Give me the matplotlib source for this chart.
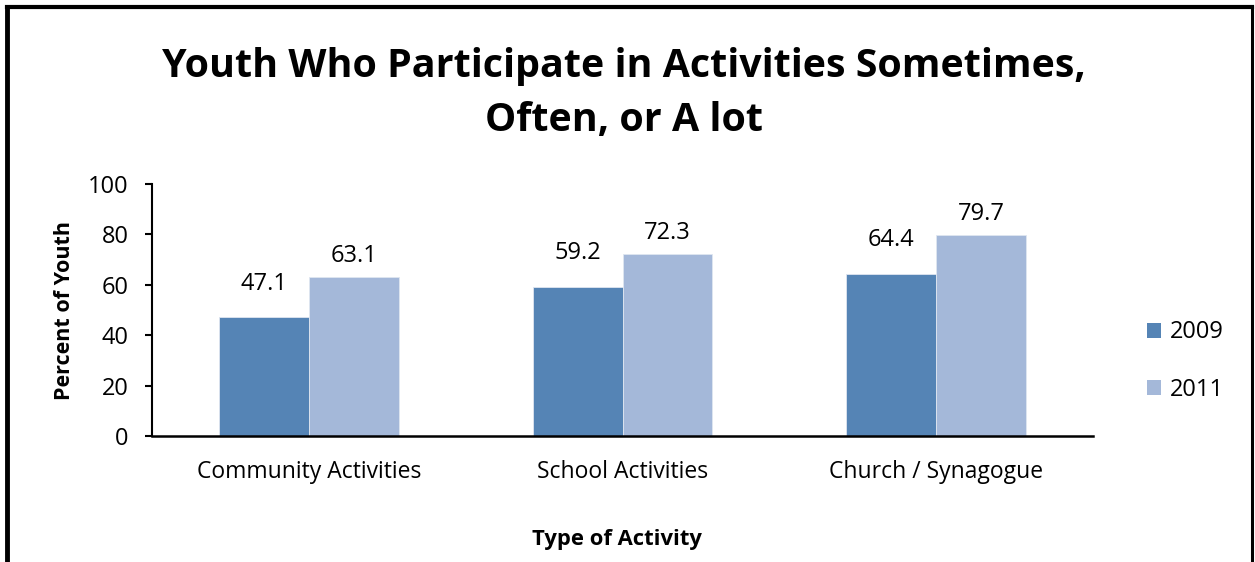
import numpy as np
import matplotlib.pyplot as plt
from matplotlib.lines import Line2D
from matplotlib.patches import Patch

plt.rcParams["font.family"] = ["Open Sans", "DejaVu Sans"]

# ── Data ─────────────────────────────────────────────────────────────────────
categories = ["Community Activities", "School Activities", "Church / Synagogue"]
years = ["2009", "2011"]
vals_2009 = [47.1, 59.2, 64.4]
vals_2011 = [63.1, 72.3, 79.7]
yticks = [0, 20, 40, 60, 80, 100]

colors = {"2009": "#5584B5", "2011": "#A4B8D9"}

# ── Figure ───────────────────────────────────────────────────────────────────
W, H = 1255, 562
fig = plt.figure(figsize=(W / 100, H / 100), dpi=100, facecolor="white")
ax = fig.add_axes([152 / W, 1 - 436 / H, (1093 - 152) / W, (436 - 184) / H])

x = np.arange(len(categories))
bw = 90 / 314
# label offsets differ per series in the original (Excel nudged them)
for off, yr, vals, lab_off in [(-0.5, "2009", vals_2009, 15.5), (0.5, "2011", vals_2011, 6.5)]:
    bars = ax.bar(x + off * bw, vals, width=bw, color=colors[yr],
                  edgecolor="#dfe6f0", linewidth=0.6, label=yr)
    for b, v in zip(bars, vals):
        ax.annotate(f"{v:.1f}", (b.get_x() + b.get_width() / 2, v),
                    xytext=(0, lab_off), textcoords="offset points",
                    ha="center", va="bottom", fontsize=17)

ax.set_xlim(-0.5, 2.5)
ax.set_ylim(0, 100)
ax.set_yticks(yticks)
ax.set_xticks(x)
ax.set_xticklabels(categories, fontsize=16.5)
ax.tick_params(axis="y", labelsize=17, length=5, width=1.5, pad=12, direction="out")
ax.tick_params(axis="x", length=0, pad=17)
ax.spines[["top", "right"]].set_visible(False)
ax.spines["left"].set_linewidth(1.5)
ax.spines["bottom"].set_linewidth(1.8)

fig.text(65 / W, 1 - 311 / H, "Percent of Youth", rotation=90, fontsize=15.5,
         fontweight="bold", ha="center", va="center")
fig.text(617 / W, 1 - 539 / H, "Type of Activity", fontsize=15.8,
         fontweight="bold", ha="center", va="center")
fig.text(624 / W, 1 - 94 / H, "Youth Who Participate in Activities Sometimes,\nOften, or A lot",
         fontsize=28.4, fontweight="bold", ha="center", va="center", linespacing=1.5)

handles = [Patch(facecolor=colors[y], edgecolor="none") for y in years]
fig.legend(handles, years, loc="center left", bbox_to_anchor=(1126 / W, 1 - 361 / H),
           frameon=False, fontsize=17, handlelength=0.6, handleheight=0.6,
           handletextpad=0.35, labelspacing=1.4)

# outer frame
fig.add_artist(Line2D([7 / W, 7 / W], [0, 1 - 7 / H], color="black", lw=3.5))
fig.add_artist(Line2D([7 / W, 1252 / W], [1 - 7 / H, 1 - 7 / H], color="black", lw=3))
fig.add_artist(Line2D([1252 / W, 1252 / W], [0, 1 - 7 / H], color="black", lw=2.2))

fig.savefig("out.png", dpi=100, facecolor="white")
